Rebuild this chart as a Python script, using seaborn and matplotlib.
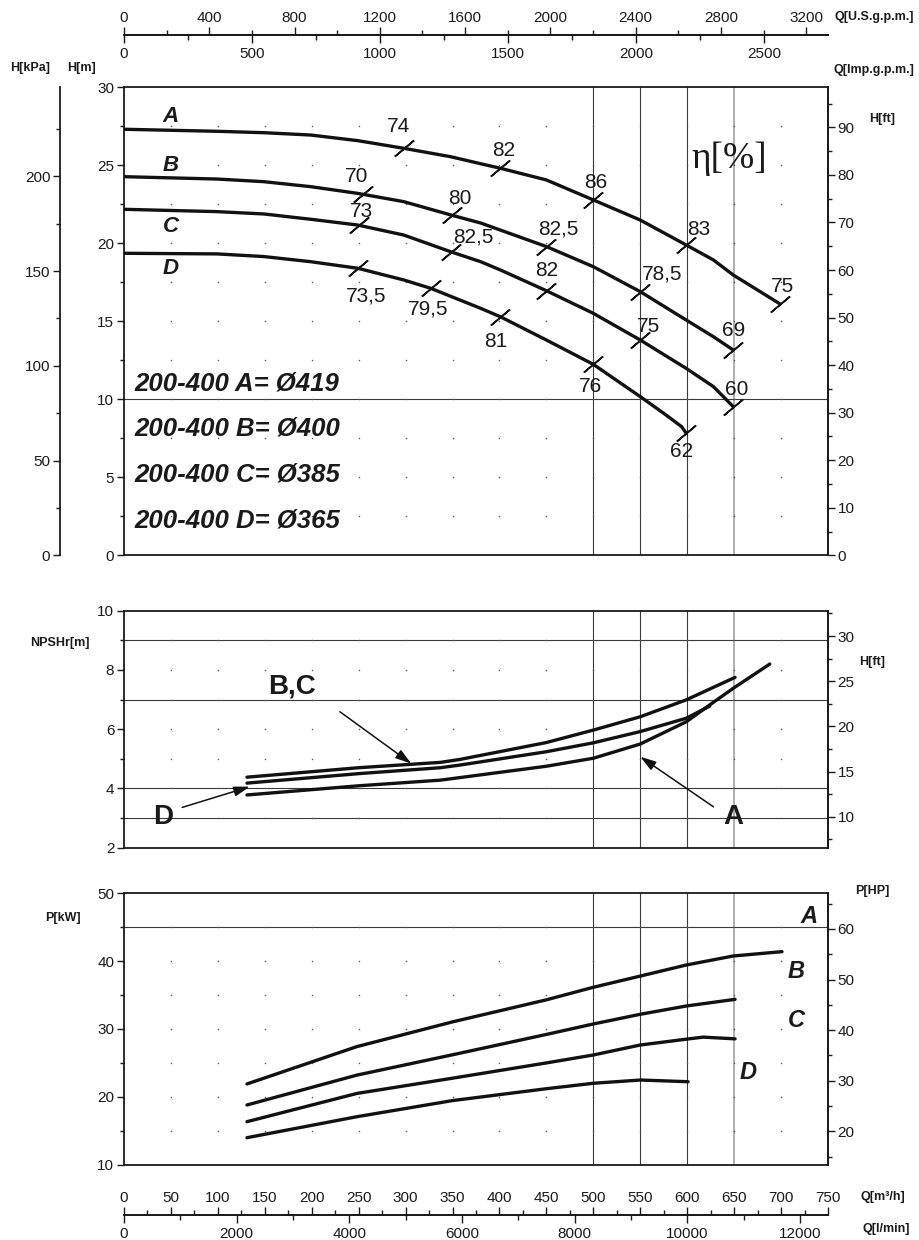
import numpy as np
import matplotlib
matplotlib.use('Agg')
import matplotlib.pyplot as plt
import seaborn as sns

# ---- values (Q in m3/h) ---- #

# head curves H[m]
q_a = [0, 99, 149, 199, 249, 298, 348, 380, 401, 450, 500, 550, 599, 628, 649, 699]
h_a = [27.31, 27.18, 27.09, 26.94, 26.58, 26.09, 25.55, 25.1, 24.81, 24.06, 22.78, 21.49, 19.89, 18.93, 17.97, 16.11]
q_b = [0, 99, 149, 199, 249, 298, 348, 380, 450, 500, 550, 599, 628, 649]
h_b = [24.27, 24.12, 23.95, 23.63, 23.2, 22.67, 21.82, 21.3, 19.79, 18.5, 16.9, 15.08, 14.01, 13.16]
q_c = [0, 99, 149, 199, 249, 298, 348, 380, 401, 450, 500, 550, 599, 628, 649]
h_c = [22.18, 22.03, 21.88, 21.54, 21.17, 20.53, 19.46, 18.82, 18.29, 16.96, 15.51, 13.8, 11.98, 10.81, 9.53]
q_d = [0, 99, 149, 199, 249, 298, 327, 380, 401, 450, 500, 550, 575, 594, 599]
h_d = [19.36, 19.32, 19.15, 18.82, 18.4, 17.65, 17.11, 15.83, 15.29, 13.8, 12.24, 10.17, 9.1, 8.25, 7.82]

# efficiency marks on the head curves, eta[%]
eta_q_a = [298, 401, 500, 599, 699]
eta_h_a = [26.09, 24.81, 22.78, 19.89, 16.11]
eta_a = ['74', '82', '86', '83', '75']
eta_q_b = [255, 349, 450, 550, 649]
eta_h_b = [23.14, 21.8, 19.79, 16.9, 13.16]
eta_b = ['70', '80', '82,5', '78,5', '69']
eta_q_c = [250, 348, 450, 550, 649]
eta_h_c = [21.15, 19.46, 16.96, 13.8, 9.53]
eta_c = ['73', '82,5', '82', '75', '60']
eta_q_d = [249, 327, 401, 500, 599]
eta_h_d = [18.4, 17.11, 15.29, 12.24, 7.82]
eta_d = ['73,5', '79,5', '81', '76', '62']

impellers = ['200-400 A= Ø419', '200-400 B= Ø400', '200-400 C= Ø385', '200-400 D= Ø365']

# NPSHr[m]
npsh_q_a = [131, 250, 337, 450, 500, 550, 599, 624, 649, 688]
npsh_a = [3.78, 4.09, 4.28, 4.75, 5.02, 5.50, 6.25, 6.82, 7.38, 8.20]
npsh_q_bc = [131, 250, 337, 358, 450, 500, 550, 599, 651]
npsh_bc = [4.38, 4.70, 4.88, 4.98, 5.55, 5.97, 6.42, 6.99, 7.75]
npsh_q_d = [131, 250, 337, 358, 450, 500, 550, 599, 624]
npsh_d = [4.18, 4.50, 4.70, 4.79, 5.24, 5.54, 5.92, 6.37, 6.78]

# power P[kW]
p_q_a = [131, 248, 350, 450, 500, 550, 599, 649, 701]
p_a = [21.9, 27.4, 31.05, 34.3, 36.15, 37.8, 39.43, 40.76, 41.4]
p_q_b = [131, 248, 350, 450, 500, 550, 599, 651]
p_b = [18.8, 23.2, 26.2, 29.2, 30.74, 32.17, 33.39, 34.37]
p_q_c = [131, 248, 350, 450, 500, 550, 599, 617, 651]
p_c = [16.34, 20.5, 22.75, 25.0, 26.17, 27.64, 28.5, 28.8, 28.55]
p_q_d = [131, 248, 350, 450, 500, 550, 571, 601]
p_d = [13.98, 17.07, 19.45, 21.2, 22.0, 22.48, 22.38, 22.23]

ref_q = [500, 550, 600, 650]          # vertical reference lines
h_ref, npsh_ref, p_ref = [10], [3, 4, 7, 9], [45]

# unit conversions
Q_MAX = 750
US_GPM = 4.4029
IMP_GPM = 3.6662
LPM = 1000 / 60
FT = 1 / 0.3048
KPA_SCALE = 247 / 30      # kPa scale as printed on the chart
HP = 1.341

# ---- layout helpers ---- #
W, H = 919, 1240
INK = '#1a1a1a'
LABEL_FONT = dict(family=['Liberation Sans', 'DejaVu Sans'], weight='bold', size=9, color=INK)

sns.set_style('ticks')
plt.rcParams['font.family'] = ['Liberation Sans', 'DejaVu Sans']

fig = plt.figure(figsize=(W / 100, H / 100), dpi=100)


def box(l, t, r, b):
    return [l / W, 1 - b / H, (r - l) / W, (b - t) / H]


def ftext(x, y, s, **kw):
    fig.text(x / W, 1 - y / H, s, ha='center', va='center', **kw)


def steps(lo, hi, step):
    # tick values inside [lo, hi] only
    start = np.ceil(lo / step - 1e-9) * step
    return np.arange(start, hi + 1e-9, step)


def set_ticks(axis, lo, hi, major, minor):
    axis.set_ticks(steps(lo, hi, major))
    axis.set_ticks(steps(lo, hi, minor), minor=True)


def setup_panel(ax, ylim, major, minor, hlines, dot_step):
    ax.set_xlim(0, Q_MAX)
    ax.set_ylim(*ylim)
    ax.set_xticks([])
    set_ticks(ax.yaxis, ylim[0], ylim[1], major, minor)
    ax.tick_params(axis='y', which='major', direction='out', length=5, width=1, labelsize=11, pad=2, colors=INK)
    ax.tick_params(axis='y', which='minor', direction='out', length=3, width=1, colors=INK)
    for s in ax.spines.values():
        s.set_visible(True)
        s.set_color(INK)
        s.set_linewidth(1.3)
    for q in ref_q:
        ax.axvline(q, color='#9a9a9a' if q == 650 else '#3a3a3a', lw=1.1 if q == 650 else 0.8, zorder=1)
    for y in hlines:
        ax.axhline(y, color='#3a3a3a', lw=0.8, zorder=1)
    gx, gy = np.meshgrid(np.arange(50, Q_MAX, 50), np.arange(ylim[0] + dot_step, ylim[1], dot_step))
    ax.scatter(gx.ravel(), gy.ravel(), s=1.2, color='#555555', linewidths=0, zorder=1)


def side_axis(sec, lo, hi, major, minor):
    set_ticks(sec.yaxis, lo, hi, major, minor)
    sec.tick_params(which='major', direction='out', length=5, width=1, labelsize=11, pad=2, colors=INK)
    sec.tick_params(which='minor', direction='out', length=3, width=1, colors=INK)
    for s in sec.spines.values():
        s.set_color(INK)
        s.set_linewidth(1.3)


def flow_axis(sec, factor, major, minor, pad):
    set_ticks(sec.xaxis, 0, Q_MAX * factor, major, minor)
    sec.tick_params(which='major', direction='out', length=6, width=1, labelsize=11, pad=pad, colors=INK)
    sec.tick_params(which='minor', direction='out', length=3.5, width=1, colors=INK)
    for s in sec.spines.values():
        s.set_color(INK)
        s.set_linewidth(1.3)


def curve(ax, q, v):
    sns.lineplot(x=q, y=v, ax=ax, color='#111111', linewidth=2.4, sort=False, estimator=None, zorder=3)


# ---- H-Q panel ---- #
ax_h = fig.add_axes(box(124, 87.3, 828, 555.3))
setup_panel(ax_h, (0, 30), 5, 2.5, h_ref, 2.5)

for q, h in [(q_a, h_a), (q_b, h_b), (q_c, h_c), (q_d, h_d)]:
    curve(ax_h, q, h)

# label offsets in px from the mark (layout only)
eta_offsets = [
    [(-5, 22), (3, 18), (2, 17), (12, 16), (2, 17)],
    [(-7, 18), (8, 17), (12, 18), (22, 18), (0, 20)],
    [(3, 14), (23, 15), (0, 20), (8, 14), (3, 17)],
    [(8, -28), (-3, -21), (-5, -25), (-3, -22), (-5, -18)],
]
eta_sets = [(eta_q_a, eta_h_a, eta_a), (eta_q_b, eta_h_b, eta_b),
            (eta_q_c, eta_h_c, eta_c), (eta_q_d, eta_h_d, eta_d)]
for (qs, hs, labels), offs in zip(eta_sets, eta_offsets):
    ax_h.plot(qs, hs, ls='none', marker=(2, 2, -50), ms=18, mew=1.2, color='#111111', zorder=4)
    for q, h, lab, (dx, dy) in zip(qs, hs, labels, offs):
        ax_h.annotate(lab, (q, h), xytext=(dx * 0.72, dy * 0.72), textcoords='offset points',
                      ha='center', va='center', fontsize=15, color=INK)

for letter, (x, y) in zip('ABCD', [(50, 28.1), (50, 25.0), (50, 21.05), (50, 18.4)]):
    ax_h.text(x, y, letter, ha='center', va='center', fontsize=16, fontweight='bold', style='italic', color=INK)

for s, y in zip(impellers, [11.03, 8.14, 5.15, 2.26]):
    ax_h.text(11, y, s, ha='left', va='center', fontsize=18.5, fontweight='bold', style='italic', color=INK)

ax_h.text(645, 25.4, 'η[%]', ha='center', va='center', fontsize=27,
          family=['Liberation Serif', 'DejaVu Serif'], color=INK)

sec_ft = ax_h.secondary_yaxis('right', functions=(lambda m: m * FT, lambda f: f / FT))
side_axis(sec_ft, 0, 30 * FT, 10, 5)
sec_kpa = ax_h.secondary_yaxis(-64 / 704, functions=(lambda m: m * KPA_SCALE, lambda k: k / KPA_SCALE))
side_axis(sec_kpa, 0, 30 * KPA_SCALE, 50, 25)

# flow scales above the H-Q panel
top_loc = 1 + 52.3 / 468
sec_us = ax_h.secondary_xaxis(top_loc, functions=(lambda q: q * US_GPM, lambda g: g / US_GPM))
sec_imp = ax_h.secondary_xaxis(top_loc, functions=(lambda q: q * IMP_GPM, lambda g: g / IMP_GPM))
sec_imp.set_alignment('bottom')
flow_axis(sec_us, US_GPM, 400, 200, 1)
flow_axis(sec_imp, IMP_GPM, 500, 250, 3)

# ---- NPSH panel ---- #
ax_n = fig.add_axes(box(124, 610.7, 828, 847.7))
setup_panel(ax_n, (2, 10), 2, 1, npsh_ref, 1)
for q, v in [(npsh_q_a, npsh_a), (npsh_q_bc, npsh_bc), (npsh_q_d, npsh_d)]:
    curve(ax_n, q, v)

arrow = dict(arrowstyle='-|>,head_length=0.8,head_width=0.25', color='#111111', lw=1.1,
             mutation_scale=12, shrinkA=0, shrinkB=0)
ax_n.annotate('', xy=(306, 4.84), xytext=(230, 6.59), arrowprops=arrow)
ax_n.annotate('', xy=(134, 4.06), xytext=(62, 3.36), arrowprops=arrow)
ax_n.annotate('', xy=(550, 5.07), xytext=(628, 3.38), arrowprops=arrow)
ax_n.text(179, 7.44, 'B,C', ha='center', va='center', fontsize=20, fontweight='bold', color=INK)
ax_n.text(42, 3.05, 'D', ha='center', va='center', fontsize=20, fontweight='bold', color=INK)
ax_n.text(649, 3.05, 'A', ha='center', va='center', fontsize=20, fontweight='bold', color=INK)

sec_nft = ax_n.secondary_yaxis('right', functions=(lambda m: m * FT, lambda f: f / FT))
side_axis(sec_nft, 2 * FT, 10 * FT, 5, 2.5)

# ---- power panel ---- #
ax_p = fig.add_axes(box(124, 893.3, 828, 1164.7))
setup_panel(ax_p, (10, 50), 10, 5, p_ref, 5)
for q, v in [(p_q_a, p_a), (p_q_b, p_b), (p_q_c, p_c), (p_q_d, p_d)]:
    curve(ax_p, q, v)
for letter, (x, y) in zip('ABCD', [(730, 46.55), (716, 38.45), (716, 31.18), (665, 23.6)]):
    ax_p.text(x, y, letter, ha='center', va='center', fontsize=17, fontweight='bold', style='italic', color=INK)

sec_hp = ax_p.secondary_yaxis('right', functions=(lambda k: k * HP, lambda p: p / HP))
side_axis(sec_hp, 10 * HP, 50 * HP, 10, 5)

# flow scales below the power panel
bot_loc = -(1215 - 1164.7) / 271.4
sec_m3 = ax_p.secondary_xaxis(bot_loc, functions=(lambda q: q, lambda q: q))
sec_m3.set_alignment('top')
sec_lpm = ax_p.secondary_xaxis(bot_loc, functions=(lambda q: q * LPM, lambda l: l / LPM))
flow_axis(sec_m3, 1, 50, 25, 1.5)
flow_axis(sec_lpm, LPM, 2000, 1000, 2.5)

# ---- unit labels ---- #
ftext(30, 68, 'H[kPa]', **LABEL_FONT)
ftext(82, 68, 'H[m]', **LABEL_FONT)
ftext(874, 17, 'Q[U.S.g.p.m.]', **LABEL_FONT)
ftext(874, 70, 'Q[Imp.g.p.m.]', **LABEL_FONT)
ftext(882, 119, 'H[ft]', **LABEL_FONT)
ftext(60, 643, 'NPSHr[m]', **LABEL_FONT)
ftext(872, 662, 'H[ft]', **LABEL_FONT)
ftext(63, 918, 'P[kW]', **LABEL_FONT)
ftext(872, 891, 'P[HP]', **LABEL_FONT)
ftext(883, 1197, 'Q[m³/h]', **LABEL_FONT)
ftext(886, 1229, 'Q[l/min]', **LABEL_FONT)

fig.savefig('out.png', dpi=100)
